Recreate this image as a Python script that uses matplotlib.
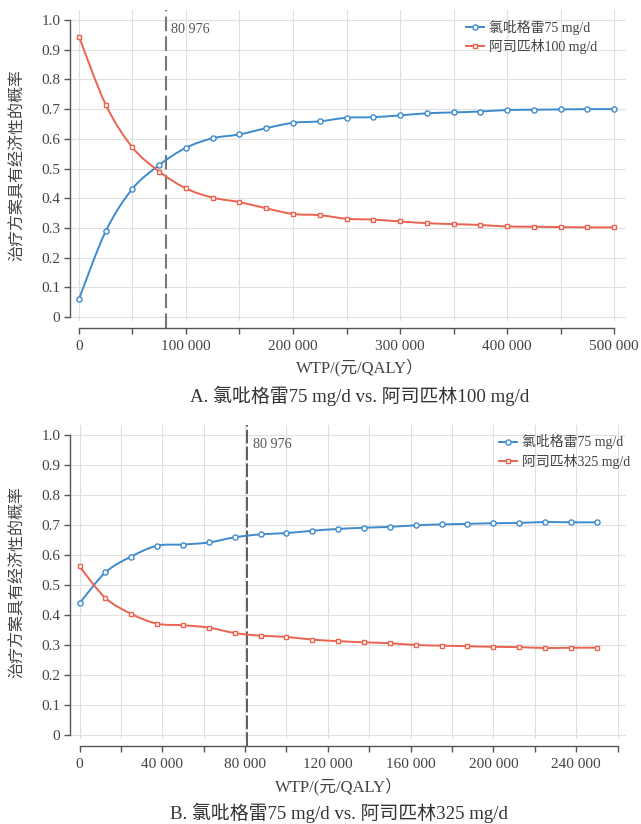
import matplotlib
matplotlib.use("Agg")
import matplotlib.pyplot as plt
from matplotlib.lines import Line2D
from matplotlib.path import Path
from matplotlib.patches import PathPatch
import numpy as np

plt.rcParams["font.family"] = ["Liberation Serif", "Noto Sans CJK SC"]

BLUE = "#3d8bcd"
RED = "#eb6350"
TXT = "#444444"

# panel A
wtp_a = [0, 25000, 50000, 75000, 100000, 125000, 150000, 175000, 200000, 225000,
         250000, 275000, 300000, 325000, 350000, 375000, 400000, 425000, 450000,
         475000, 500000]
clop_a = [0.061, 0.289, 0.432, 0.512, 0.570, 0.602, 0.615, 0.636, 0.654, 0.659,
          0.671, 0.673, 0.679, 0.686, 0.689, 0.692, 0.697, 0.698, 0.699, 0.700, 0.700]
asp_a = [0.944, 0.715, 0.571, 0.490, 0.433, 0.402, 0.387, 0.366, 0.347, 0.343,
         0.331, 0.328, 0.322, 0.316, 0.313, 0.310, 0.305, 0.304, 0.303, 0.302, 0.302]

# panel B
wtp_b = [0, 12500, 25000, 37500, 50000, 62500, 75000, 87500, 100000, 112500,
         125000, 137500, 150000, 162500, 175000, 187500, 200000, 212500, 225000,
         237500, 250000]
clop_b = [0.439, 0.542, 0.595, 0.631, 0.635, 0.642, 0.659, 0.669, 0.673, 0.681,
          0.687, 0.691, 0.694, 0.699, 0.702, 0.704, 0.706, 0.707, 0.710, 0.709, 0.709]
asp_b = [0.562, 0.457, 0.404, 0.371, 0.366, 0.358, 0.340, 0.331, 0.327, 0.318,
         0.313, 0.309, 0.306, 0.300, 0.298, 0.296, 0.294, 0.293, 0.290, 0.291, 0.291]

threshold = 80976

panels = [
    dict(x=wtp_a, s1=clop_a, s2=asp_a, lab2="阿司匹林100 mg/d",
         title="A. 氯吡格雷75 mg/d vs. 阿司匹林100 mg/d",
         xlim=(-8400, 511200), xend=500000, step=50000, labstep=100000,
         lablast=500000,
         rect=[0.1092, 0.6109, 0.8674, 0.3774], cx=360, xl_y=367, t_y=396,
         vcol="#777777", vlw=1.5, vdash=(7, 2.5), leg=(0.963, 0.995)),
    dict(x=wtp_b, s1=clop_b, s2=asp_b, lab2="阿司匹林325 mg/d",
         title="B. 氯吡格雷75 mg/d vs. 阿司匹林325 mg/d",
         xlim=(-4600, 264100), xend=260000, step=20000, labstep=40000,
         lablast=240000,
         rect=[0.1092, 0.1036, 0.8674, 0.3812], cx=339, xl_y=786, t_y=813,
         vcol="#333333", vlw=1.1, vdash=(9, 2), leg=(1.023, 0.995)),
]


def smooth_line(ax, x, y, color):
    # catmull-rom style bezier through the data points
    pts = np.column_stack([x, y]).astype(float)
    verts = [pts[0]]
    codes = [Path.MOVETO]
    n = len(pts)
    for i in range(n - 1):
        p0 = pts[max(i - 1, 0)]
        p1 = pts[i]
        p2 = pts[i + 1]
        p3 = pts[min(i + 2, n - 1)]
        c1 = p1 + (p2 - p0) / 6.0
        c2 = p2 - (p3 - p1) / 6.0
        verts += [c1, c2, p2]
        codes += [Path.CURVE4] * 3
    patch = PathPatch(Path(verts, codes), fc="none", ec=color, lw=1.4, zorder=3)
    ax.add_patch(patch)


def fmt(v):
    return "0" if v == 0 else f"{v:,}".replace(",", " ")


fig = plt.figure(figsize=(6.41, 8.24), dpi=100)

for p in panels:
    ax = fig.add_axes(p["rect"])
    ax.set_xlim(*p["xlim"])
    ax.set_ylim(-0.012, 1.035)

    ax.grid(True, color="#e0e0e0", lw=0.8, zorder=0)
    ax.set_axisbelow(True)

    smooth_line(ax, p["x"], p["s1"], BLUE)
    smooth_line(ax, p["x"], p["s2"], RED)
    ax.plot(p["x"], p["s1"], ls="none", marker="o", ms=3.7, mfc="white",
            mec=BLUE, mew=1.0, zorder=4)
    ax.plot(p["x"], p["s2"], ls="none", marker="s", ms=3.4, mfc="white",
            mec=RED, mew=1.0, zorder=4)

    # WTP threshold
    ax.axvline(threshold, ymin=-0.025, ymax=1, color=p["vcol"], lw=p["vlw"],
               dashes=p["vdash"], clip_on=False, zorder=2)
    ax.text(threshold + (p["xlim"][1] - p["xlim"][0]) * 0.010, 0.968,
            fmt(threshold), fontsize=10.2, color="#555555", va="center")

    xt = list(range(0, p["xend"] + 1, p["step"]))
    ax.set_xticks(xt)
    ax.set_xticklabels([fmt(v) if v % p["labstep"] == 0 and v <= p["lablast"]
                        else "" for v in xt])
    yt = [round(0.1 * i, 1) for i in range(11)]
    ax.set_yticks(yt)
    ax.set_yticklabels(["0" if v == 0 else f"{v:.1f}" for v in yt])

    for side in ["top", "right"]:
        ax.spines[side].set_visible(False)
    ax.spines["left"].set_bounds(0, 1)
    ax.spines["bottom"].set_bounds(0, p["xend"])
    ax.spines["bottom"].set_position(("outward", 5))
    for side in ["left", "bottom"]:
        ax.spines[side].set_color("#555555")
        ax.spines[side].set_linewidth(1.0)
    ax.tick_params(axis="both", direction="out", length=4, width=1.0,
                   color="#555555", labelcolor=TXT, labelsize=11)
    ax.tick_params(axis="x", pad=5)
    ax.tick_params(axis="y", pad=3)

    handles = [
        Line2D([], [], color=BLUE, lw=1.4, marker="o", ms=3.7, mfc="white",
               mec=BLUE, mew=1.0),
        Line2D([], [], color=RED, lw=1.4, marker="s", ms=3.4, mfc="white",
               mec=RED, mew=1.0),
    ]
    ax.legend(handles, ["氯吡格雷75 mg/d", p["lab2"]], loc="upper right",
              bbox_to_anchor=p["leg"], frameon=False, fontsize=10,
              handlelength=1.3, handletextpad=0.35, labelspacing=0.3,
              borderaxespad=0.2, labelcolor=TXT)

    fig.text(p["cx"] / 641, 1 - p["xl_y"] / 824, "WTP/(元/QALY）", ha="center",
             va="center", fontsize=12, color=TXT)
    fig.text(p["cx"] / 641, 1 - p["t_y"] / 824, p["title"], ha="center",
             va="center", fontsize=13.6, color="#333333")
    ymid = (p["rect"][1] + p["rect"][3] / 2)
    fig.text(18 / 641, ymid, "治疗方案具有经济性的概率", rotation=90,
             ha="center", va="center", fontsize=11.5, color=TXT)

fig.savefig("out.png", dpi=100)
